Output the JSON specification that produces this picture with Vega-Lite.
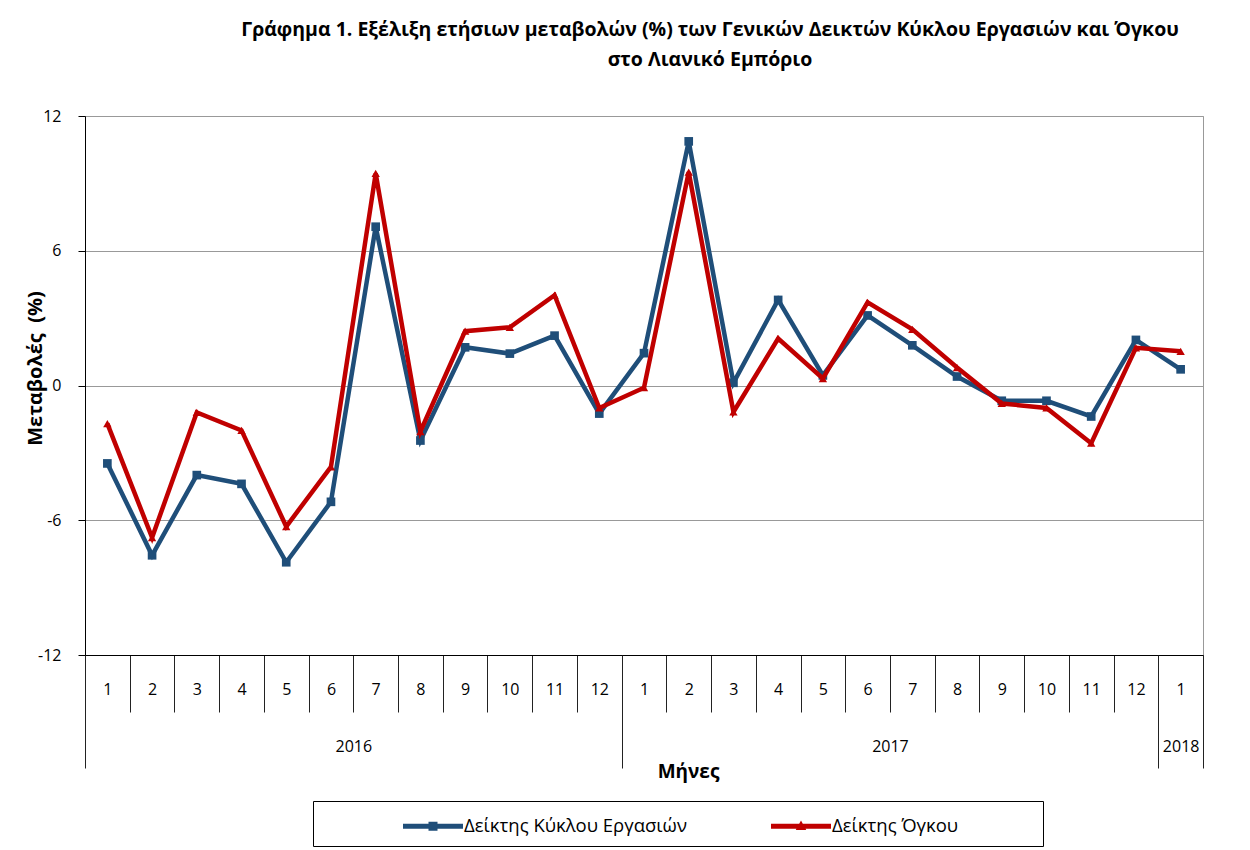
{
  "$schema": "https://vega.github.io/schema/vega-lite/v6.json",
  "autosize": "none",
  "width": 1118,
  "height": 539,
  "padding": {"left": 85, "top": 116, "right": 47, "bottom": 195},
  "background": "white",
  "config": {
    "font": "Open Sans",
    "view": {"stroke": "#999999", "strokeWidth": 1},
    "axis": {"labelFont": "Open Sans", "titleFont": "Open Sans", "labelColor": "#000", "titleColor": "#000"}
  },
  "title": {
    "text": ["Γράφημα 1. Εξέλιξη ετήσιων μεταβολών (%) των Γενικών Δεικτών Κύκλου Εργασιών και Όγκου", "στο Λιανικό Εμπόριο"],
    "font": "Open Sans",
    "fontSize": 19.5,
    "fontWeight": "bold",
    "color": "#000",
    "anchor": "middle",
    "frame": "group",
    "dx": 66,
    "offset": 38,
    "lineHeight": 30
  },
  "data": {
    "values": [
      {"period": "2016-01", "series": "Δείκτης Κύκλου Εργασιών", "value": -3.47},
      {"period": "2016-02", "series": "Δείκτης Κύκλου Εργασιών", "value": -7.56},
      {"period": "2016-03", "series": "Δείκτης Κύκλου Εργασιών", "value": -3.99},
      {"period": "2016-04", "series": "Δείκτης Κύκλου Εργασιών", "value": -4.38},
      {"period": "2016-05", "series": "Δείκτης Κύκλου Εργασιών", "value": -7.87},
      {"period": "2016-06", "series": "Δείκτης Κύκλου Εργασιών", "value": -5.18},
      {"period": "2016-07", "series": "Δείκτης Κύκλου Εργασιών", "value": 7.07},
      {"period": "2016-08", "series": "Δείκτης Κύκλου Εργασιών", "value": -2.45},
      {"period": "2016-09", "series": "Δείκτης Κύκλου Εργασιών", "value": 1.70},
      {"period": "2016-10", "series": "Δείκτης Κύκλου Εργασιών", "value": 1.42},
      {"period": "2016-11", "series": "Δείκτης Κύκλου Εργασιών", "value": 2.22},
      {"period": "2016-12", "series": "Δείκτης Κύκλου Εργασιών", "value": -1.25},
      {"period": "2017-01", "series": "Δείκτης Κύκλου Εργασιών", "value": 1.44},
      {"period": "2017-02", "series": "Δείκτης Κύκλου Εργασιών", "value": 10.87},
      {"period": "2017-03", "series": "Δείκτης Κύκλου Εργασιών", "value": 0.12},
      {"period": "2017-04", "series": "Δείκτης Κύκλου Εργασιών", "value": 3.81},
      {"period": "2017-05", "series": "Δείκτης Κύκλου Εργασιών", "value": 0.45},
      {"period": "2017-06", "series": "Δείκτης Κύκλου Εργασιών", "value": 3.12},
      {"period": "2017-07", "series": "Δείκτης Κύκλου Εργασιών", "value": 1.79},
      {"period": "2017-08", "series": "Δείκτης Κύκλου Εργασιών", "value": 0.40},
      {"period": "2017-09", "series": "Δείκτης Κύκλου Εργασιών", "value": -0.68},
      {"period": "2017-10", "series": "Δείκτης Κύκλου Εργασιών", "value": -0.68},
      {"period": "2017-11", "series": "Δείκτης Κύκλου Εργασιών", "value": -1.38},
      {"period": "2017-12", "series": "Δείκτης Κύκλου Εργασιών", "value": 2.03},
      {"period": "2018-01", "series": "Δείκτης Κύκλου Εργασιών", "value": 0.72},
      {"period": "2016-01", "series": "Δείκτης Όγκου", "value": -1.70},
      {"period": "2016-02", "series": "Δείκτης Όγκου", "value": -6.77},
      {"period": "2016-03", "series": "Δείκτης Όγκου", "value": -1.20},
      {"period": "2016-04", "series": "Δείκτης Όγκου", "value": -2.00},
      {"period": "2016-05", "series": "Δείκτης Όγκου", "value": -6.28},
      {"period": "2016-06", "series": "Δείκτης Όγκου", "value": -3.62},
      {"period": "2016-07", "series": "Δείκτης Όγκου", "value": 9.44},
      {"period": "2016-08", "series": "Δείκτης Όγκου", "value": -2.05},
      {"period": "2016-09", "series": "Δείκτης Όγκου", "value": 2.42},
      {"period": "2016-10", "series": "Δείκτης Όγκου", "value": 2.59},
      {"period": "2016-11", "series": "Δείκτης Όγκου", "value": 4.02},
      {"period": "2016-12", "series": "Δείκτης Όγκου", "value": -1.00},
      {"period": "2017-01", "series": "Δείκτης Όγκου", "value": -0.10},
      {"period": "2017-02", "series": "Δείκτης Όγκου", "value": 9.50},
      {"period": "2017-03", "series": "Δείκτης Όγκου", "value": -1.18},
      {"period": "2017-04", "series": "Δείκτης Όγκου", "value": 2.09},
      {"period": "2017-05", "series": "Δείκτης Όγκου", "value": 0.31},
      {"period": "2017-06", "series": "Δείκτης Όγκου", "value": 3.70},
      {"period": "2017-07", "series": "Δείκτης Όγκου", "value": 2.50},
      {"period": "2017-08", "series": "Δείκτης Όγκου", "value": 0.80},
      {"period": "2017-09", "series": "Δείκτης Όγκου", "value": -0.80},
      {"period": "2017-10", "series": "Δείκτης Όγκου", "value": -1.00},
      {"period": "2017-11", "series": "Δείκτης Όγκου", "value": -2.57},
      {"period": "2017-12", "series": "Δείκτης Όγκου", "value": 1.68},
      {"period": "2018-01", "series": "Δείκτης Όγκου", "value": 1.52}
    ]
  },
  "layer": [
    {
      "layer": [
        {
          "transform": [{"filter": "datum.series === 'Δείκτης Κύκλου Εργασιών'"}],
          "mark": {"type": "line", "strokeWidth": 4.5, "strokeJoin": "miter", "color": "#1F4E79"}
        },
        {
          "transform": [{"filter": "datum.series === 'Δείκτης Κύκλου Εργασιών'"}],
          "mark": {"type": "point", "shape": "square", "filled": true, "size": 75, "opacity": 1, "color": "#1F4E79"}
        },
        {
          "transform": [{"filter": "datum.series === 'Δείκτης Όγκου'"}],
          "mark": {"type": "line", "strokeWidth": 4.5, "strokeJoin": "miter", "color": "#C00000"}
        },
        {
          "transform": [{"filter": "datum.series === 'Δείκτης Όγκου'"}],
          "mark": {"type": "point", "shape": "triangle-up", "filled": true, "size": 70, "opacity": 1, "color": "#C00000"}
        }
      ],
      "encoding": {
        "x": {
          "field": "period", "type": "ordinal", "sort": null, "bandPosition": 0.5,
          "scale": {"type": "band", "paddingInner": 0, "paddingOuter": 0},
          "axis": {
            "orient": "bottom", "title": null, "tickBand": "extent", "tickSize": 57,
            "tickColor": "#222", "domainColor": "#000", "labelAngle": 0,
            "labelExpr": "isString(datum.value) ? toString(toNumber(substring(datum.value, 5))) : ''",
            "labelFontSize": 16, "labelPadding": -31, "labelBaseline": "top"
          }
        },
        "y": {
          "field": "value", "type": "quantitative",
          "scale": {"domain": [-12, 12], "nice": false, "zero": false},
          "axis": {
            "values": [-12, -6, 0, 6, 12], "grid": true, "gridColor": "#999999",
            "tickSize": 7, "tickColor": "#000", "domainColor": "#000",
            "labelFontSize": 16, "labelPadding": 17, "labelExpr": "toString(datum.value)",
            "title": "Μεταβολές\u00a0\u00a0(%)", "titleFontSize": 20, "titleFontWeight": "bold",
            "titlePadding": -8, "titleY": 252
          }
        }
      }
    },
    {
      "data": {"values": [{"series": "Δείκτης Κύκλου Εργασιών"}, {"series": "Δείκτης Όγκου"}]},
      "mark": {"type": "point", "filled": true, "opacity": 0, "strokeWidth": 0},
      "encoding": {
        "x": {
          "datum": 0, "type": "quantitative",
          "scale": {"domain": [0, 25], "nice": false, "zero": false},
          "axis": {
            "orient": "bottom", "values": [0, 6, 12, 18, 24, 24.5, 25],
            "labelExpr": "datum.value === 6 ? '2016' : datum.value === 18 ? '2017' : datum.value === 24.5 ? '2018' : ''",
            "tickSize": 113, "tickColor": "#222",
            "tickOpacity": {"condition": {"test": "datum.value === 6 || datum.value === 18 || datum.value === 24.5", "value": 0}, "value": 1},
            "domain": false, "grid": false, "labelFontSize": 16, "labelPadding": -30,
            "labelBaseline": "top", "labelOverlap": false, "labelFlush": false,
            "title": "Μήνες", "titleFontSize": 19, "titleFontWeight": "bold", "titlePadding": -6, "titleX": 603
          }
        },
        "color": {
          "field": "series", "type": "nominal",
          "scale": {"domain": ["Δείκτης Κύκλου Εργασιών", "Δείκτης Όγκου"], "range": ["#1F4E79", "#C00000"]},
          "legend": {
            "orient": "none", "legendX": 228, "legendY": 685, "direction": "horizontal",
            "title": null, "strokeColor": "#000", "fillColor": "#fff", "padding": 10,
            "symbolSize": 900, "symbolOpacity": 1, "symbolStrokeWidth": 0,
            "labelFontSize": 18.5, "labelFont": "Open Sans", "labelColor": "#000", "labelLimit": 600,
            "labelExpr": "datum.value === 'Δείκτης Όγκου' ? datum.label + '\u2003\u2003\u2003\u2003\u200b' : datum.label",
            "labelOffset": 16, "symbolOffset": 95, "columnPadding": 4
          }
        },
        "shape": {
          "field": "series", "type": "nominal",
          "scale": {"domain": ["Δείκτης Κύκλου Εργασιών", "Δείκτης Όγκου"],
            "range": ["M-2,-0.17H2V0.17H-2Z M-0.3,-0.3H0.3V0.3H-0.3Z", "M-2,-0.17H2V0.17H-2Z M0,-0.38L0.35,0.25L-0.35,0.25Z"]},
          "legend": {
            "orient": "none", "legendX": 228, "legendY": 685, "direction": "horizontal",
            "title": null, "strokeColor": "#000", "fillColor": "#fff", "padding": 10,
            "symbolSize": 900, "symbolOpacity": 1, "symbolStrokeWidth": 0,
            "labelFontSize": 18.5, "labelFont": "Open Sans", "labelColor": "#000", "labelLimit": 600,
            "labelExpr": "datum.value === 'Δείκτης Όγκου' ? datum.label + '\u2003\u2003\u2003\u2003\u200b' : datum.label",
            "labelOffset": 16, "symbolOffset": 95, "columnPadding": 4
          }
        }
      }
    }
  ],
  "resolve": {"scale": {"x": "independent"}, "axis": {"x": "independent"}}
}
